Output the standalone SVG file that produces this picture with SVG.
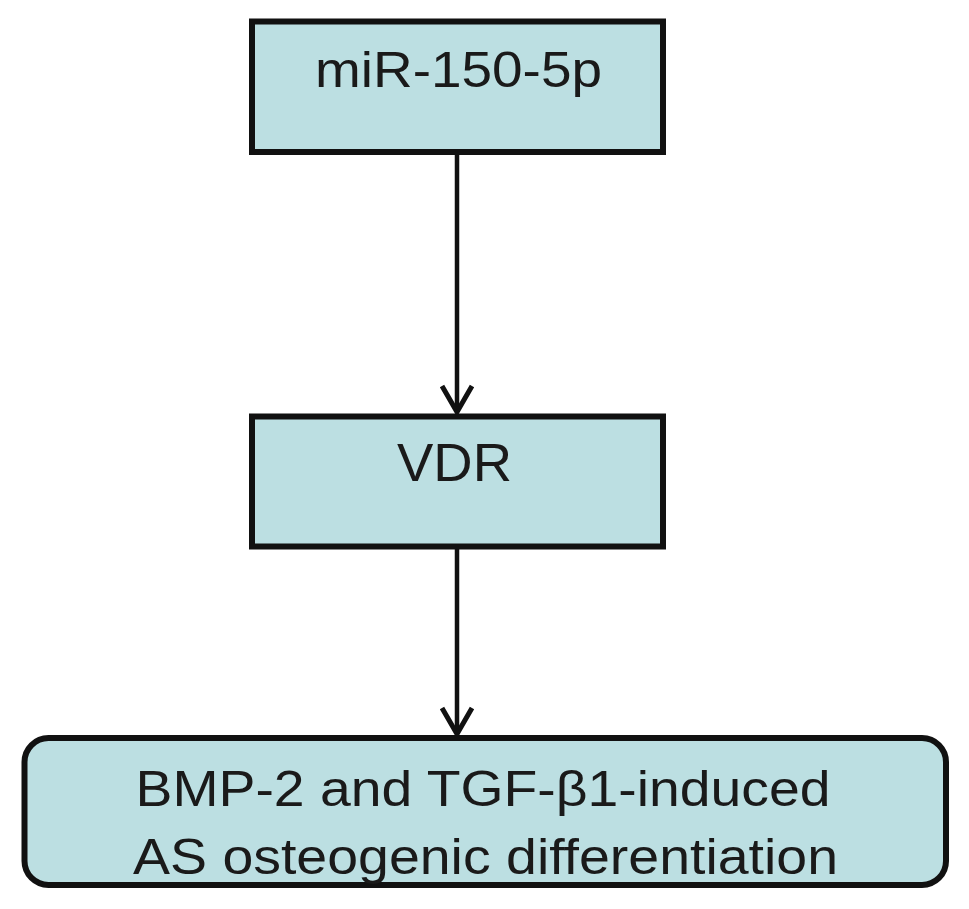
<svg xmlns="http://www.w3.org/2000/svg" width="969" height="909" viewBox="0 0 969 909">
<style>
.box{fill:#bcdfe2;stroke:#111;stroke-width:6}
.lbl{font-family:"Liberation Sans",Arial,sans-serif;fill:#1a1a1a;text-anchor:middle}
.conn{stroke:#111;stroke-width:4.5;fill:none}
.head{stroke:#111;stroke-width:5;fill:none;stroke-linejoin:miter;stroke-linecap:butt}
</style>
<rect width="969" height="909" fill="#ffffff"/>
<g id="connectors">
<line class="conn" x1="457" y1="154" x2="457" y2="412"/>
<polyline class="head" points="442,386 457,412 472,386"/>
<line class="conn" x1="457" y1="549" x2="457" y2="734"/>
<polyline class="head" points="442,708 457,734 472,708"/>
</g>
<g id="node-mir">
<rect class="box" x="252" y="21.5" width="411" height="130.5"/>
<text class="lbl" x="458.5" y="87" font-size="50" textLength="287" lengthAdjust="spacingAndGlyphs">miR-150-5p</text>
</g>
<g id="node-vdr">
<rect class="box" x="252" y="416.5" width="411" height="130"/>
<text class="lbl" x="454.5" y="481" font-size="53" textLength="115" lengthAdjust="spacingAndGlyphs">VDR</text>
</g>
<g id="node-bmp">
<rect class="box" x="24.5" y="738" width="921.5" height="147" rx="24" ry="24" stroke-width="5"/>
<text class="lbl" x="483" y="806" font-size="50" textLength="695" lengthAdjust="spacingAndGlyphs">BMP-2 and TGF-β1-induced</text>
<text class="lbl" x="485.5" y="874" font-size="50" textLength="705" lengthAdjust="spacingAndGlyphs">AS osteogenic differentiation</text>
</g>
</svg>
